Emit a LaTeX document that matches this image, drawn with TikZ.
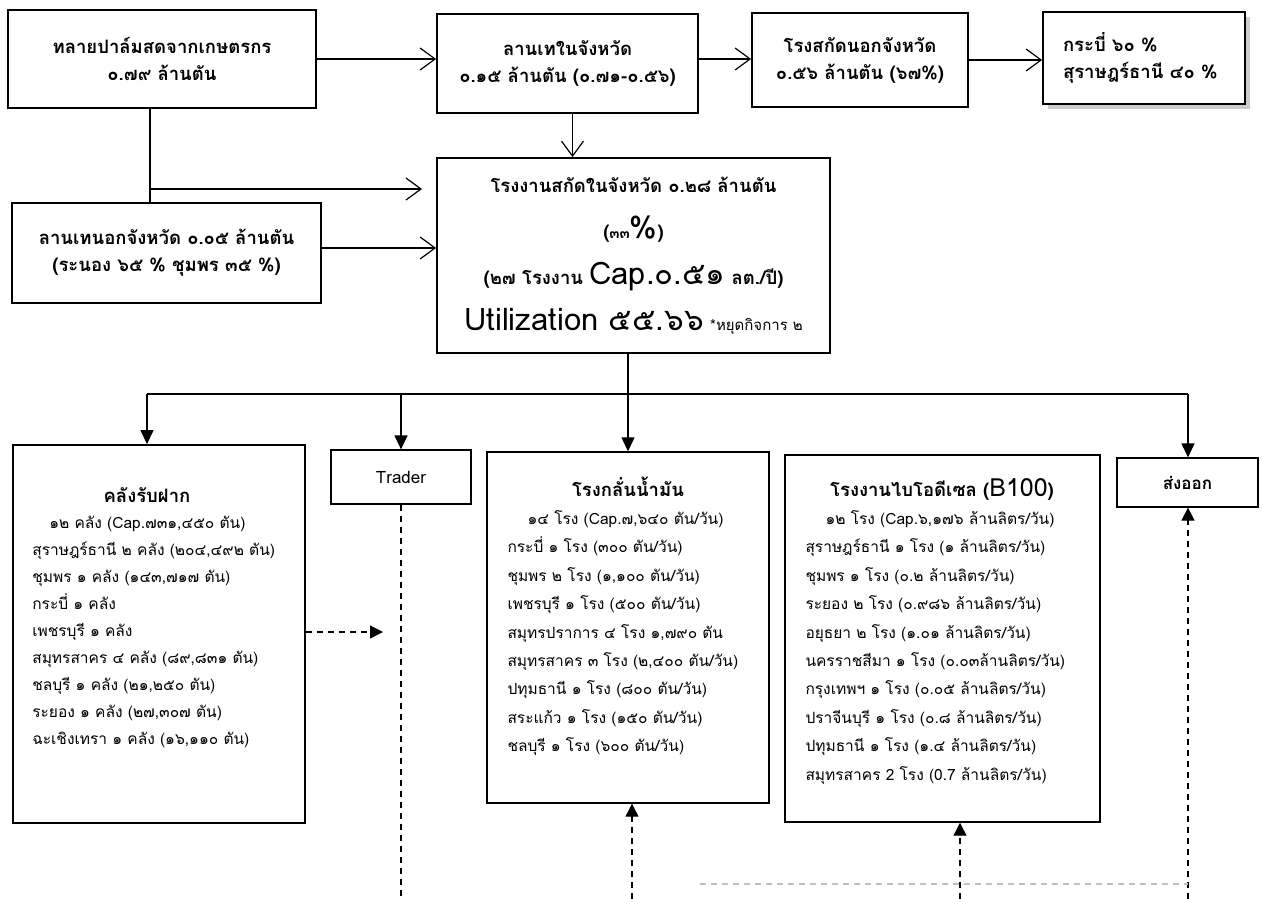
\documentclass[tikz,border=0pt]{standalone}
\usepackage{fontspec}
\setmainfont[Script=Thai]{Loma}
\usetikzlibrary{positioning,arrows.meta,shadows}

\newcommand\headfont{\fontsize{18.5}{27}\selectfont\bfseries}
\newcommand\bigfont{\fontsize{31}{31}\selectfont\mdseries}
\newcommand\titlefont{\fontsize{18.5}{27}\selectfont\bfseries}
\newcommand\listfont{\fontsize{15.5}{27}\selectfont}
\newcommand\wlistfont{\fontsize{15.5}{28.4}\selectfont}

\tikzset{
  box/.style={draw, line width=1.8pt, rectangle, align=center, inner sep=0pt, font=\headfont},
  thinbox/.style={draw, line width=1.2pt, rectangle, inner sep=0pt, font=\fontsize{17}{20}\selectfont},
  listtext/.style={align=left, inner sep=0pt, font=\listfont},
  listtitle/.style={inner sep=0pt, font=\titlefont},
  openarrow/.style={line width=1.2pt, -{Straight Barb[length=15pt,width=22pt,line width=1.2pt]}},
  solidarrow/.style={line width=1.2pt, -{Triangle[length=14pt,width=13pt]}},
  dasharrow/.style={line width=1.2pt, dash pattern=on 6pt off 5pt, -{Triangle[length=13pt,width=13pt]}},
}

\begin{document}
\begin{tikzpicture}[x=1pt,y=-1pt]
  \useasboundingbox (0,0) rectangle (1263,899);

  % top row
  \node[box, minimum width=308pt, minimum height=98pt] (farm) at (162,59)
    {ทลายปาล์มสดจากเกษตรกร\\๐.๗๙ ล้านตัน};
  \node[box, minimum width=261pt, minimum height=99pt] (lanin) at (567.5,63.5)
    {ลานเทในจังหวัด\\๐.๑๕ ล้านตัน (๐.๗๑-๐.๕๖)};
  \node[box, minimum width=216pt, minimum height=94pt] (rongnok) at (860,60)
    {โรงสกัดนอกจังหวัด\\๐.๕๖ ล้านตัน (๖๗\%)};
  \node[box, fill=white, text width=162pt, align=left, minimum width=202pt, minimum height=92pt,
        drop shadow={shadow xshift=5pt, shadow yshift=-5pt, fill=gray!40, opacity=1}] (krabi) at (1144,58)
    {กระบี่ ๖๐ \%\\สุราษฎร์ธานี ๔๐ \%};

  \draw[openarrow] (farm.east) -- (farm.east -| lanin.west);
  \draw[openarrow] (lanin.east |- farm.east) -- (farm.east -| rongnok.west);
  \draw[openarrow] (rongnok.east) -- (rongnok.east -| krabi.west);

  % second row
  \node[box, minimum width=309pt, minimum height=100pt] (lannok) at (166.5,253)
    {ลานเทนอกจังหวัด ๐.๐๕ ล้านตัน\\(ระนอง ๖๕ \% ชุมพร ๓๕ \%)};
  \node[box, minimum width=393pt, minimum height=195pt, font=\fontsize{18.5}{46}\selectfont\bfseries] (rongnai) at (633.5,255.5)
    {โรงงานสกัดในจังหวัด ๐.๒๘ ล้านตัน\\
     ({\fontsize{15}{15}\selectfont ๓๓}{\bigfont\%})\\
     (๒๗ โรงงาน {\bigfont Cap.๐.๕๑} ลต./ปี)\\
     {\bigfont Utilization ๕๕.๖๖} {\mdseries\fontsize{15}{15}\selectfont *หยุดกิจการ ๒}};

  \coordinate (split) at (150,189);
  \coordinate (splittip) at (422,189);
  \draw[line width=1.2pt] ([xshift=-12pt]farm.south) -- ([xshift=-12pt]farm.south |- lannok.north);
  \draw[openarrow] (split) -- (splittip);
  \draw[openarrow] ([yshift=5pt]lannok.east) -- ([yshift=5pt]lannok.east -| rongnai.west);
  \draw[openarrow] ([xshift=5pt]lanin.south) -- ([xshift=5pt]lanin.south |- rongnai.north);

  % bottom row
  \node[box, minimum width=292pt, minimum height=378pt] (klang) at (159,634) {};
  \node[thinbox, minimum width=140pt, minimum height=54pt] (trader) at (401,477) {Trader};
  \node[box, line width=1.4pt, minimum width=282pt, minimum height=351pt] (refinery) at (628,627.5) {};
  \node[box, line width=1.4pt, minimum width=315pt, minimum height=367pt] (bio) at (942.5,638.5) {};
  \node[thinbox, minimum width=141pt, minimum height=49pt, font=\fontsize{17}{20}\selectfont\bfseries] (export) at (1187.5,482.5) {ส่งออก};

  \node[listtitle] (klanghead) at (147,495) {คลังรับฝาก};
  \node[listtext, below right=72pt and 20pt of klang.north west] (klanglist)
    {\hspace*{17pt}๑๒ คลัง (Cap.๗๓๑,๔๕๐ ตัน)\\
     สุราษฎร์ธานี ๒ คลัง (๒๐๔,๔๙๒ ตัน)\\
     ชุมพร ๑ คลัง (๑๔๓,๗๑๗ ตัน)\\
     กระบี่ ๑ คลัง\\
     เพชรบุรี ๑ คลัง\\
     สมุทรสาคร ๔ คลัง (๘๙,๘๓๑ ตัน)\\
     ชลบุรี ๑ คลัง (๒๑,๒๕๐ ตัน)\\
     ระยอง ๑ คลัง (๒๗,๓๐๗ ตัน)\\
     ฉะเชิงเทรา ๑ คลัง (๑๖,๑๑๐ ตัน)};

  \node[listtitle] (refhead) at (628,487) {โรงกลั่นน้ำมัน};
  \node[listtext, font=\wlistfont, below right=59pt and 21pt of refinery.north west] (reflist)
    {\hspace*{20pt}๑๔ โรง (Cap.๗,๖๔๐ ตัน/วัน)\\
     กระบี่ ๑ โรง (๓๐๐ ตัน/วัน)\\
     ชุมพร ๒ โรง (๑,๑๐๐ ตัน/วัน)\\
     เพชรบุรี ๑ โรง (๕๐๐ ตัน/วัน)\\
     สมุทรปราการ ๔ โรง ๑,๗๙๐ ตัน\\
     สมุทรสาคร ๓ โรง (๒,๔๐๐ ตัน/วัน)\\
     ปทุมธานี ๑ โรง (๘๐๐ ตัน/วัน)\\
     สระแก้ว ๑ โรง (๑๕๐ ตัน/วัน)\\
     ชลบุรี ๑ โรง (๖๐๐ ตัน/วัน)};

  \node[listtitle] (biohead) at (942,489) {โรงงานไบโอดีเซล ({\fontsize{25}{25}\selectfont\mdseries B100})};
  \node[listtext, font=\wlistfont, below right=56pt and 21pt of bio.north west] (biolist)
    {\hspace*{20pt}๑๒ โรง (Cap.๖,๑๗๖ ล้านลิตร/วัน)\\
     สุราษฎร์ธานี ๑ โรง (๑ ล้านลิตร/วัน)\\
     ชุมพร ๑ โรง (๐.๒ ล้านลิตร/วัน)\\
     ระยอง ๒ โรง (๐.๙๘๖ ล้านลิตร/วัน)\\
     อยุธยา ๒ โรง (๑.๐๑ ล้านลิตร/วัน)\\
     นครราชสีมา ๑ โรง (๐.๐๓ล้านลิตร/วัน)\\
     กรุงเทพฯ ๑ โรง (๐.๐๕ ล้านลิตร/วัน)\\
     ปราจีนบุรี ๑ โรง (๐.๘ ล้านลิตร/วัน)\\
     ปทุมธานี ๑ โรง (๑.๔ ล้านลิตร/วัน)\\
     สมุทรสาคร 2 โรง (0.7 ล้านลิตร/วัน)};

  % distribution bus
  \coordinate (busL) at (147,394);
  \coordinate (busR) at (1188,394);
  \draw[line width=1.2pt] (refinery.north |- rongnai.south) -- (refinery.north |- busL);
  \draw[line width=1.2pt] (busL) -- (busR);
  \draw[solidarrow] (busL) -- (busL |- klang.north);
  \draw[solidarrow] (trader.north |- busL) -- (trader.north);
  \draw[solidarrow] (refinery.north |- busL) -- (refinery.north);
  \draw[solidarrow] (busR) -- (busR |- export.north);

  % dashed flows
  \coordinate (bot) at (0,899);
  \coordinate (klangtip) at (383,632);
  \draw[dasharrow, -] (trader.south) -- (trader.south |- bot);
  \draw[dasharrow] (klang.east |- klangtip) -- (klangtip);
  \draw[dasharrow] ([xshift=4pt]refinery.south |- bot) -- ([xshift=4pt]refinery.south);
  \draw[dasharrow] ([xshift=17.5pt]bio.south |- bot) -- ([xshift=17.5pt]bio.south);
  \draw[dasharrow] (busR |- bot) -- (busR |- export.south);
  \coordinate (grayL) at (700,884);
  \draw[gray!50, line width=1.2pt, dash pattern=on 6pt off 5pt] (grayL) -- (grayL -| busR);
\end{tikzpicture}
\end{document}
